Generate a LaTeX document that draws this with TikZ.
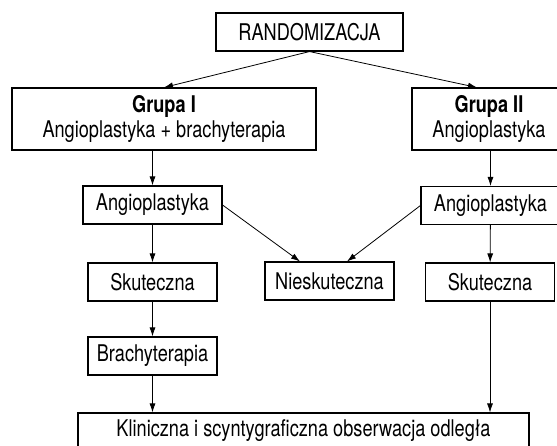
\documentclass[tikz,border=0pt]{standalone}
\usepackage{fontspec}
\setmainfont{TeX Gyre Heros}[FakeStretch=0.79]
\usetikzlibrary{arrows.meta}

\begin{document}
\begin{tikzpicture}[
    x=1pt, y=-1pt,
    box/.style={draw=black, line width=1.1pt, fill=white, minimum height=38pt, inner sep=0pt, align=center, font=\fontsize{23}{24.5}\selectfont},
    arrow/.style={-{Latex[length=9pt,width=6pt]}, line width=0.8pt}
]
    \useasboundingbox (0,0) rectangle (557,445);
    \node[box, minimum width=187pt] (rand) at (309.5,32) {RANDOMIZACJA};
    \node[box, minimum width=304pt, minimum height=62pt] (grupaI) at (164,119) {\textbf{Grupa I}\\Angioplastyka + brachyterapia};
    \node[box, minimum width=154pt, minimum height=62pt] (grupaII) at (489,119) {\textbf{Grupa II}\\Angioplastyka};
    \node[box, minimum width=139pt] (angioL) at (152.5,205) {Angioplastyka};
    \node[box, minimum width=139pt] (angioR) at (490.5,205.5) {Angioplastyka};
    \node[box, minimum width=129pt] (skutL) at (152.5,282) {Skuteczna};
    \node[box, minimum width=129pt] (niesk) at (329.5,281) {Nieskuteczna};
    \node[box, minimum width=129pt] (skutR) at (490,282) {Skuteczna};
    \node[box, minimum width=129pt] (brachy) at (152.5,356) {Brachyterapia};
    \node[box, minimum width=451pt, minimum height=36pt] (obs) at (303.5,431) {Kliniczna i scyntygraficzna obserwacja odległa};

    \draw[arrow] (rand.south) -- (grupaI.north);
    \draw[arrow] (rand.south) -- ([xshift=-12pt]grupaII.north);
    \draw[arrow] (grupaI.south -| angioL) -- (angioL.north);
    \draw[arrow] (grupaII.south -| angioR) -- (angioR.north);
    \draw[arrow] (angioL) -- (skutL);
    \draw[arrow] (angioR) -- (skutR);
    \draw[arrow] (angioL.east) -- ([xshift=-29.5pt]niesk.north);
    \draw[arrow] (angioR.west) -- ([xshift=17.5pt]niesk.north);
    \draw[arrow] (skutL) -- (brachy);
    \draw[arrow] (brachy.south) -- (brachy.south |- obs.north);
    \draw[arrow] (skutR.south) -- (skutR.south |- obs.north);
\end{tikzpicture}
\end{document}
